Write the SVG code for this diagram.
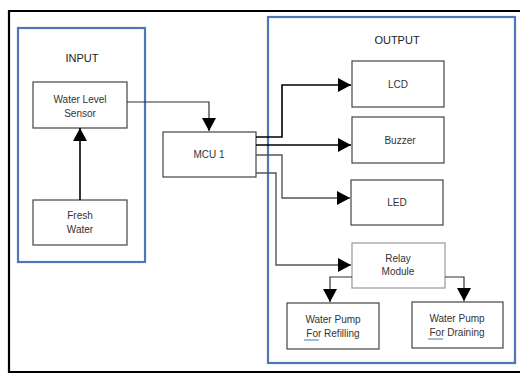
<svg xmlns="http://www.w3.org/2000/svg" width="520" height="376" viewBox="0 0 520 376">
<defs>
<marker id="ah" markerUnits="userSpaceOnUse" markerWidth="14" markerHeight="14" viewBox="0 0 14 14" refX="13" refY="7" orient="auto">
<path d="M0,0 L13,7 L0,14 Z" fill="#000"/>
</marker>
</defs>
<style>
text{font-family:"Liberation Sans",Arial,sans-serif;fill:#333;text-anchor:middle}
.t{font-size:10px}
.h{font-size:11px;fill:#222}
.box{fill:#fff;stroke:#444;stroke-width:1.2}
.lbox{fill:#fff;stroke:#999;stroke-width:1.2}
.grp{fill:none;stroke:#4f77b5;stroke-width:2.2}
.c{fill:none;stroke:#000;stroke-width:1.6}
.cg{fill:none;stroke:#333;stroke-width:1.2}
.cl{fill:none;stroke:#555;stroke-width:1.4}
.ul{stroke:#4f77b5;stroke-width:1}
</style>
<rect x="0" y="0" width="520" height="376" fill="#fff"/>
<path d="M526,11 H9 V372 H526" fill="none" stroke="#000" stroke-width="2.2"/>
<g id="input">
<rect class="grp" x="18" y="28" width="127" height="234"/>
<text class="h" x="82" y="62">INPUT</text>
</g>
<g id="output">
<rect class="grp" x="268" y="17" width="247" height="346"/>
<text class="h" x="397" y="44">OUTPUT</text>
</g>
<g id="sensor">
<rect class="box" x="33" y="82" width="94" height="46"/>
<text class="t" x="80" y="103">Water Level</text>
<text class="t" x="80" y="117">Sensor</text>
</g>
<g id="fresh">
<rect class="box" x="33" y="200" width="94" height="45"/>
<text class="t" x="80" y="219">Fresh</text>
<text class="t" x="80" y="233">Water</text>
</g>
<g id="mcu">
<rect class="box" x="163" y="132" width="93" height="45"/>
<text class="t" x="209" y="158">MCU 1</text>
</g>
<g id="lcd">
<rect class="box" x="352" y="61" width="92" height="46"/>
<text class="t" x="398" y="88">LCD</text>
</g>
<g id="buzzer">
<rect class="box" x="352" y="117" width="92" height="46"/>
<text class="t" x="400" y="144">Buzzer</text>
</g>
<g id="led">
<rect class="box" x="351" y="180" width="92" height="45"/>
<text class="t" x="397" y="206">LED</text>
</g>
<g id="relay">
<rect class="lbox" x="352" y="243" width="93" height="45"/>
<text class="t" x="398" y="262">Relay</text>
<text class="t" x="398" y="275">Module</text>
</g>
<g id="pump-refill">
<rect class="box" x="287" y="303" width="92" height="46"/>
<text class="t" x="333" y="323">Water Pump</text>
<text class="t" x="333" y="337">For Refilling</text>
<line class="ul" x1="304" y1="340" x2="319" y2="340"/>
</g>
<g id="pump-drain">
<rect class="box" x="412" y="302" width="91" height="46"/>
<text class="t" x="457" y="322">Water Pump</text>
<text class="t" x="457" y="336">For Draining</text>
<line class="ul" x1="428" y1="339" x2="443" y2="339"/>
</g>
<g id="connectors">
<path class="c" d="M80,200 V128" marker-end="url(#ah)"/>
<path class="cg" d="M127,102 H209 V131" marker-end="url(#ah)"/>
<path class="c" d="M256,137 H282 V85 H351" marker-end="url(#ah)"/>
<path class="c" d="M256,145 H351" marker-end="url(#ah)" stroke-width="2"/>
<path class="cl" d="M256,155 H282 V198 H350" marker-end="url(#ah)"/>
<path class="cl" d="M256,173 H276 V265 H351" marker-end="url(#ah)"/>
<path class="cg" d="M352,277 H330 V302" marker-end="url(#ah)"/>
<path class="cg" d="M445,277 H464 V301" marker-end="url(#ah)"/>
</g>
</svg>
